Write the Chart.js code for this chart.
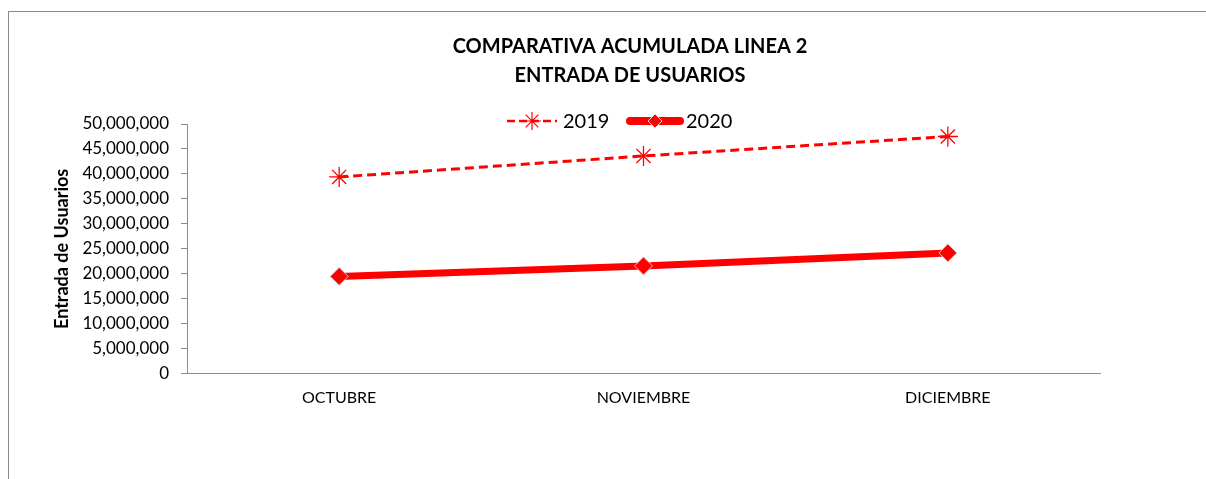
<!DOCTYPE html>
<html>
<head>
<meta charset="utf-8">
<script src="https://cdn.jsdelivr.net/npm/chart.js@4"></script>
<style>
  html, body { margin: 0; padding: 0; background: #fff; }
  #wrap { position: relative; width: 1206px; height: 479px; overflow: hidden; }
  #frame { position: absolute; left: 8px; top: 11px; width: 1300px; height: 600px;
           border-left: 1px solid #8c8c8c; border-top: 1px solid #8c8c8c; }
  #c { position: absolute; left: 0; top: 0; }
</style>
</head>
<body>
<div id="wrap">
  <div id="frame"></div>
  <canvas id="c" width="1206" height="479"></canvas>
</div>
<script>
const categories = ['OCTUBRE', 'NOVIEMBRE', 'DICIEMBRE'];
const series2019 = [39400000, 43600000, 47500000];
const series2020 = [19500000, 21600000, 24200000];
const seriesNames = ['2019', '2020'];
const titleLines = ['COMPARATIVA ACUMULADA LINEA 2', 'ENTRADA DE USUARIOS'];
const yAxisTitle = 'Entrada de Usuarios';

const RED = '#FF0000';
const FONT = 'Lato, "Open Sans", sans-serif';

const headerPlugin = {
  id: 'header',
  afterDraw(chart) {
    const ctx = chart.ctx;
    ctx.save();
    ctx.fillStyle = '#000';
    ctx.font = 'bold 20px ' + FONT;
    ctx.textAlign = 'center';
    ctx.textBaseline = 'middle';
    const cx = 630;
    ctx.fillText(titleLines[0], cx, 47);
    ctx.fillText(titleLines[1], cx, 76);

    // legend
    const ly = 121;
    ctx.font = '20px ' + FONT;
    ctx.textAlign = 'left';
    const ds = chart.data.datasets;
    // item 1
    let x = 507;
    ctx.strokeStyle = RED;
    ctx.lineWidth = 2.5;
    ctx.setLineDash([8, 4]);
    ctx.beginPath(); ctx.moveTo(x, ly); ctx.lineTo(x + 50, ly); ctx.stroke();
    ctx.setLineDash([]);
    ctx.strokeStyle = RED;
    ctx.lineWidth = 1.2;
    Chart.helpers.drawPoint(ctx, {pointStyle: 'star', rotation: 0, borderWidth: 1.2, radius: 9}, x + 25, ly);
    ctx.fillStyle = '#000';
    ctx.fillText(ds[0].label, x + 56, ly + 1);
    // item 2
    x = 630;
    ctx.strokeStyle = RED;
    ctx.lineWidth = 8;
    ctx.lineCap = 'round';
    ctx.beginPath(); ctx.moveTo(x, ly); ctx.lineTo(x + 50, ly); ctx.stroke();
    ctx.lineCap = 'butt';
    ctx.fillStyle = RED;
    ctx.strokeStyle = '#d9d9d9';
    ctx.lineWidth = 1;
    Chart.helpers.drawPoint(ctx, {pointStyle: 'rectRot', rotation: 0, borderWidth: 1, radius: 7}, x + 25, ly);
    ctx.fillStyle = '#000';
    ctx.fillText(ds[1].label, x + 56, ly + 1);
    ctx.restore();
  }
};

new Chart(document.getElementById('c'), {
  type: 'line',
  data: {
    labels: categories,
    datasets: [
      {
        label: seriesNames[0],
        data: series2019,
        borderColor: RED,
        borderWidth: 3,
        borderDash: [9, 5],
        pointStyle: 'star',
        pointRadius: 10,
        pointBorderColor: RED,
        pointBorderWidth: 1.3,
        pointBackgroundColor: RED,
        fill: false,
        tension: 0
      },
      {
        label: seriesNames[1],
        data: series2020,
        borderColor: RED,
        borderWidth: 7,
        pointStyle: 'rectRot',
        pointRadius: 9,
        pointBackgroundColor: RED,
        pointBorderColor: '#d0d0d0',
        pointBorderWidth: 1,
        fill: false,
        tension: 0
      }
    ]
  },
  options: {
    responsive: false,
    animation: false,
    devicePixelRatio: 1,
    layout: { padding: { left: 50, right: 106, top: 124, bottom: 66 } },
    plugins: {
      legend: { display: false },
      title: { display: false },
      tooltip: { enabled: false }
    },
    scales: {
      x: {
        offset: true,
        grid: { display: false },
        border: { display: true, color: '#8c8c8c', width: 1 },
        ticks: { color: '#000', font: { family: FONT, size: 16 }, padding: 6 }
      },
      y: {
        min: 0,
        max: 50000000,
        afterFit(scale) { scale.width = 187 - 50; },
        grid: { display: true, drawOnChartArea: false, drawTicks: true, tickLength: 6, color: '#8c8c8c' },
        border: { display: true, color: '#8c8c8c', width: 1 },
        ticks: {
          stepSize: 5000000,
          color: '#000',
          padding: 12,
          font: { family: FONT, size: 17 },
          callback: (v) => Number(v).toLocaleString('en-US')
        },
        title: {
          display: true,
          text: yAxisTitle,
          color: '#000',
          font: { family: FONT, size: 18, weight: 'bold' },
          padding: { top: 1, bottom: 4 }
        }
      }
    }
  },
  plugins: [headerPlugin]
});
</script>
</body>
</html>
